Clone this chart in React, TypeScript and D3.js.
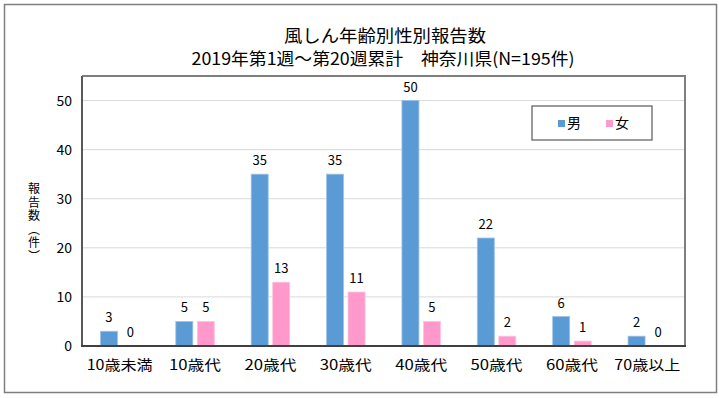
import React from 'react';
import * as d3 from 'd3';

const categories = ['10歳未満', '10歳代', '20歳代', '30歳代', '40歳代', '50歳代', '60歳代', '70歳以上'];
const maleValues = [3, 5, 35, 35, 50, 22, 6, 2];
const femaleValues = [0, 5, 13, 11, 5, 2, 1, 0];
const seriesNames = ['男', '女'];
const yTicks = [0, 10, 20, 30, 40, 50];
const yTitle = '報告数（件）';

const WIDTH = 719;
const HEIGHT = 398;
const plot = { left: 82, right: 685, top: 76, bottom: 346 };
const colors = ['#5B9BD5', '#FF99CC'];
const cjk = "'Noto Sans CJK JP', sans-serif";
const narrow = "'Liberation Sans Narrow', 'Noto Sans CJK JP', sans-serif";

export default function App() {
  const x = d3.scaleBand()
    .domain(categories)
    .range([plot.left, plot.right]);

  const y = d3.scaleLinear()
    .domain([0, 55])
    .range([plot.bottom, plot.top]);

  const barWidth = 17;
  const gap = 4.5;
  const series = [maleValues, femaleValues];
  const offset = (i: number) => (i === 0 ? -gap / 2 - barWidth : gap / 2);

  return (
    <svg
      width={WIDTH}
      height={HEIGHT}
      style={{ position: 'absolute', left: 0, top: 0, background: '#fff' }}
    >
      {/* outer frame */}
      <rect x={4.5} y={4.5} width={712} height={388} fill="#fff" stroke="#7f7f7f" strokeWidth={1.5} />

      {/* title */}
      <text x={385} y={42} textAnchor="middle" fontFamily={cjk} fontSize={17} textLength={202} lengthAdjust="spacingAndGlyphs">
        風しん年齢別性別報告数
      </text>
      <text x={383} y={65} textAnchor="middle" fontFamily={cjk} fontSize={17} textLength={383} lengthAdjust="spacingAndGlyphs">
        2019年第1週～第20週累計　神奈川県(N=195件)
      </text>

      {/* gridlines */}
      {yTicks.filter(t => t > 0).map(t => (
        <line key={t} x1={plot.left} x2={plot.right} y1={y(t)} y2={y(t)} stroke="#d9d9d9" strokeWidth={1} />
      ))}

      {/* plot frame top / right */}
      <path
        d={`M${plot.left},${plot.top}H${plot.right}V${plot.bottom}`}
        fill="none"
        stroke="#7f7f7f"
        strokeWidth={2}
      />

      {/* bars */}
      {series.map((vals, si) => (
        <g key={si}>
          {vals.map((v, i) => {
            const bx = (x(categories[i]) as number) + x.bandwidth() / 2 + offset(si);
            return (
              <g key={i}>
                {v > 0 && (
                  <rect
                    x={bx}
                    y={y(v)}
                    width={barWidth}
                    height={plot.bottom - y(v)}
                    fill={colors[si]}
                    stroke={si === 0 ? '#9dc3e6' : '#ffc3e1'}
                    strokeWidth={0.8}
                  />
                )}
                <text
                  x={bx + barWidth / 2}
                  y={y(v) - 9}
                  textAnchor="middle"
                  fontFamily={narrow}
                  fontSize={13}
                  fill="#000"
                >
                  {v}
                </text>
              </g>
            );
          })}
        </g>
      ))}

      {/* axes */}
      <line x1={plot.left} x2={plot.left} y1={plot.top} y2={plot.bottom + 1} stroke="#595959" strokeWidth={2} />
      <line x1={plot.left - 1} x2={plot.right + 1} y1={plot.bottom} y2={plot.bottom} stroke="#404040" strokeWidth={2} />

      {/* y ticks */}
      {yTicks.map(t => (
        <text key={t} x={72} y={y(t) + 5} textAnchor="end" fontFamily={narrow} fontSize={14}>
          {t}
        </text>
      ))}

      {/* y title, vertical */}
      <text
        x={34}
        y={223}
        textAnchor="middle"
        fontFamily={cjk}
        fontSize={12}
        letterSpacing={1.5}
        style={{ writingMode: 'vertical-rl', textOrientation: 'mixed' } as React.CSSProperties}
      >
        {yTitle}
      </text>

      {/* x labels */}
      {categories.map(c => (
        <text
          key={c}
          x={(x(c) as number) + x.bandwidth() / 2}
          y={370}
          textAnchor="middle"
          fontFamily={cjk}
          fontSize={14}
          textLength={c.length > 4 ? 66 : 52}
          lengthAdjust="spacingAndGlyphs"
        >
          {c}
        </text>
      ))}

      {/* legend */}
      <rect x={532} y={106} width={120} height={34} fill="#fff" stroke="#595959" strokeWidth={1.2} />
      {seriesNames.map((n, i) => (
        <g key={n} transform={`translate(${558 + i * 48}, 123)`}>
          <rect x={0} y={-3} width={7} height={7} fill={colors[i]} />
          <text x={9} y={5} fontFamily={cjk} fontSize={14}>{n}</text>
        </g>
      ))}
    </svg>
  );
}
